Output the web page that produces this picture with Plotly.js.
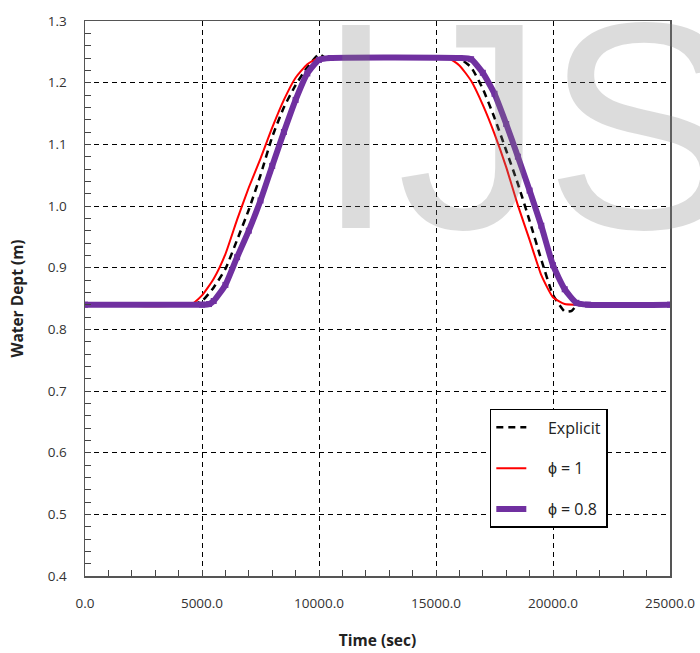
<!DOCTYPE html>
<html>
<head>
<meta charset="utf-8">
<script src="https://cdn.plot.ly/plotly-3.0.1.min.js"></script>
<style>html,body{margin:0;padding:0;background:#fff;}#chart{width:700px;height:653px;}</style>
</head>
<body>
<div id="chart"></div>
<script>
// Explicit scheme (black dashed)
const explicitTime  = [0, 4500, 5000, 5500, 6000, 6500, 7000, 7500, 8000, 8500, 9000, 9500, 10000, 10300, 15500, 16000, 16500, 17000, 17500, 18000, 18500, 19000, 19500, 20000, 20500, 20800, 21000, 21300, 25000];
const explicitDepth = [0.84, 0.84, 0.846, 0.868, 0.898, 0.945, 0.994, 1.050, 1.112, 1.160, 1.196, 1.225, 1.246, 1.240, 1.240, 1.239, 1.225, 1.190, 1.143, 1.090, 1.036, 0.976, 0.913, 0.856, 0.829, 0.830, 0.838, 0.840, 0.840];

// phi = 1 (red)
const phi1Time  = [0, 4500, 5000, 5500, 6000, 6500, 7000, 7500, 8000, 8500, 9000, 9500, 10000, 15500, 16000, 16500, 17000, 17500, 18000, 18500, 19000, 19500, 20000, 20500, 21000, 25000];
const phi1Depth = [0.84, 0.84, 0.855, 0.882, 0.922, 0.978, 1.030, 1.077, 1.127, 1.172, 1.208, 1.230, 1.240, 1.240, 1.228, 1.203, 1.164, 1.117, 1.063, 1.001, 0.945, 0.888, 0.852, 0.841, 0.840, 0.840];

// phi = 0.8 (purple, square markers)
const phi08Time  = [0, 5000, 5300, 5500, 6000, 6500, 7000, 7500, 8000, 8500, 9000, 9500, 10000, 10500, 16000, 16500, 17000, 17500, 18000, 18500, 19000, 19500, 20000, 20500, 21000, 21500, 25000];
const phi08Depth = [0.84, 0.84, 0.841, 0.846, 0.872, 0.917, 0.960, 1.009, 1.065, 1.120, 1.172, 1.215, 1.237, 1.240, 1.240, 1.238, 1.216, 1.182, 1.133, 1.080, 1.025, 0.968, 0.904, 0.865, 0.843, 0.840, 0.840];

const seriesNames = ["Explicit", "\u03D5 = 1", "\u03D5 = 0.8"];

const xTickVals = [0, 5000, 10000, 15000, 20000, 25000];
const xTickText = ["0.0", "5000.0", "10000.0", "15000.0", "20000.0", "25000.0"];
const yTickVals = [0.4, 0.5, 0.6, 0.7, 0.8, 0.9, 1.0, 1.1, 1.2, 1.3];
const yTickText = ["0.4", "0.5", "0.6", "0.7", "0.8", "0.9", "1.0", "1.1", "1.2", "1.3"];

const tickFont = {family: "Open Sans, sans-serif", size: 13.5, color: "#333"};
const pad = "\u00A0\u00A0\u00A0\u00A0";

const traces = [
  {x: explicitTime, y: explicitDepth, name: pad + seriesNames[0], mode: "lines", legendgroup: "a",
   line: {color: "#000", width: 2.5, dash: "7px,5px", shape: "spline", smoothing: 0.5}},
  {x: phi1Time, y: phi1Depth, name: pad + seriesNames[1], mode: "lines", legendgroup: "b",
   line: {color: "#ff0000", width: 2, shape: "spline", smoothing: 0.5}},
  {x: phi08Time, y: phi08Depth, name: pad + seriesNames[2], mode: "lines+markers", legendgroup: "c",
   line: {color: "#7030A0", width: 6, shape: "spline", smoothing: 0.5},
   marker: {symbol: "square", size: 6, color: "#7030A0"}}
];

const layout = {
  width: 700, height: 653,
  margin: {l: 85, r: 30, t: 21, b: 77},
  paper_bgcolor: "#fff", plot_bgcolor: "#fff",
  showlegend: true,
  legend: {x: 0.692, y: 0.301, xanchor: "left", yanchor: "top",
           bordercolor: "#000", borderwidth: 1.5, bgcolor: "#fff",
           tracegroupgap: 17,
           font: {family: "Open Sans, sans-serif", size: 16, color: "#222"}},
  xaxis: {range: [0, 25000], tickmode: "array", tickvals: xTickVals, ticktext: xTickText,
          tickfont: tickFont, ticks: "inside", ticklen: 6, tickcolor: "#444", ticklabelstandoff: 14,
          showline: true, linecolor: "#555", linewidth: 1.5, mirror: true,
          showgrid: true, gridcolor: "#000", gridwidth: 1, griddash: "5px,4px",
          zeroline: false,
          minor: {dtick: 1000, tick0: 0, ticks: "inside", ticklen: 6, tickcolor: "#444", showgrid: false},
          title: {text: "<b>Time (sec)</b>", standoff: 24,
                  font: {family: "Open Sans, sans-serif", size: 15.5, color: "#222"}}},
  yaxis: {range: [0.4, 1.3], tickmode: "array", tickvals: yTickVals, ticktext: yTickText,
          tickfont: tickFont, ticks: "inside", ticklen: 6, tickcolor: "#444", ticklabelstandoff: 14,
          showline: true, linecolor: "#555", linewidth: 1.5, mirror: true,
          showgrid: true, gridcolor: "#000", gridwidth: 1, griddash: "5px,4px",
          zeroline: false,
          minor: {dtick: 0.02, tick0: 0.4, ticks: "inside", ticklen: 6, tickcolor: "#444", showgrid: false},
          title: {text: "<b>Water Dept (m)</b>", standoff: 20,
                  font: {family: "Open Sans, sans-serif", size: 15.5, color: "#222"}}},
  annotations: [
    {text: "IJS", xref: "paper", yref: "paper", x: 0.39, y: 0.51, xanchor: "left", yanchor: "bottom",
     showarrow: false, font: {family: "Liberation Sans, Arial, sans-serif", size: 295, color: "rgba(128,128,128,0.28)"}}
  ]
};

Plotly.newPlot("chart", traces, layout, {displayModeBar: false, staticPlot: true});
</script>
</body>
</html>
